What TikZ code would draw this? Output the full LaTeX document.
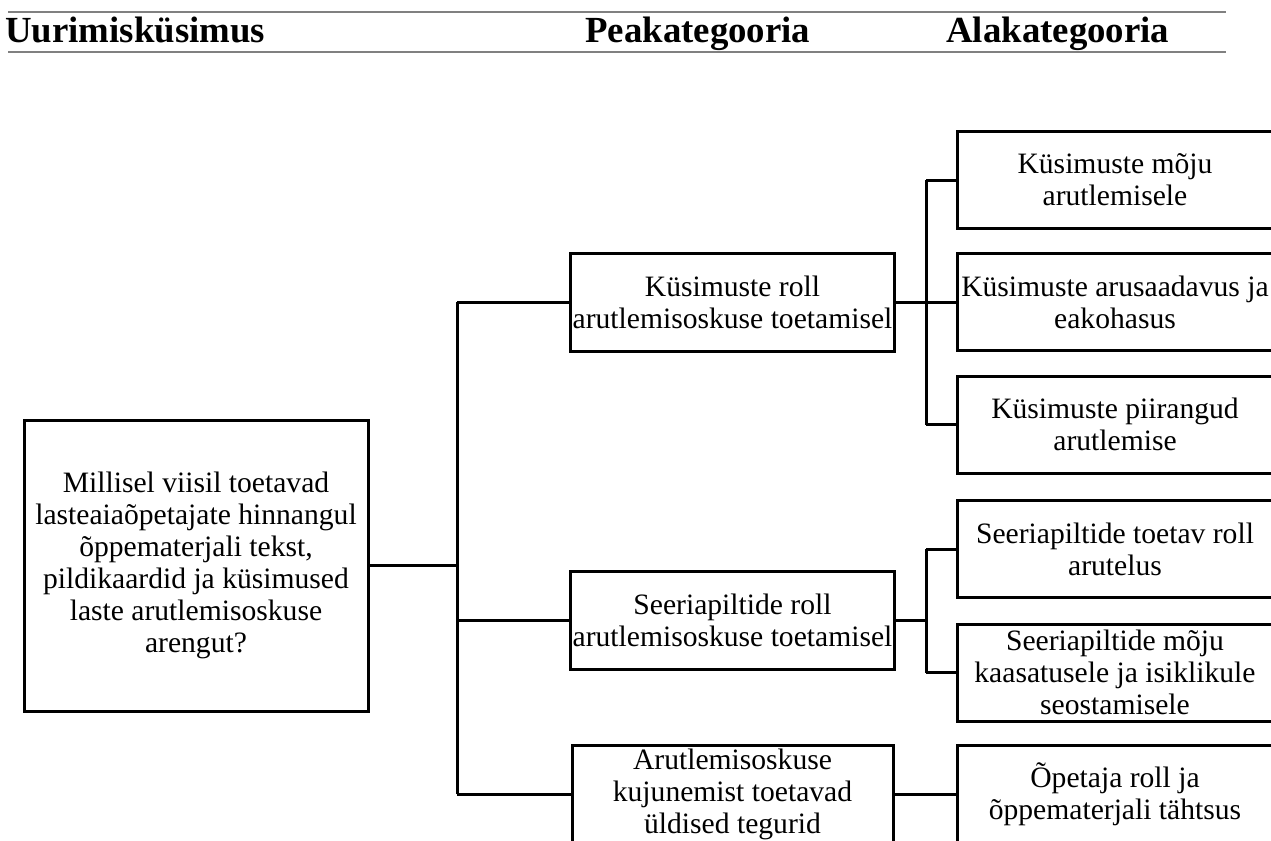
\documentclass[tikz,border=0pt]{standalone}
\usepackage{fontspec}
\setmainfont{Liberation Serif}

\begin{document}
\begin{tikzpicture}[x=0.5pt,y=-0.5pt,
  catbox/.style={draw,line width=1.5pt,align=center,inner sep=1pt,
    font=\fontsize{14.8}{16}\selectfont},
  midbox/.style={catbox,minimum width=160.5pt,minimum height=49pt},
  subbox/.style={catbox,minimum width=158pt,minimum height=48.5pt},
  headtext/.style={anchor=base west,inner sep=0pt,font=\fontsize{18.4}{20}\selectfont\bfseries},
  link/.style={line width=1.5pt}]
\definecolor{rulegray}{HTML}{808080}
\useasboundingbox (0,0) rectangle (1271,841);

% table head
\coordinate (ruleL) at (8,12);
\coordinate (ruleR) at (1226,52);
\draw[rulegray,line width=1.2pt] (ruleL) -- (ruleL -| ruleR);
\draw[rulegray,line width=1.2pt] (ruleL |- ruleR) -- (ruleR);
\node[headtext] (hq) at (5,42) {Uurimisküsimus};
\node[headtext] (hmain) at (585,42) {Peakategooria};
\node[headtext] (hsub) at (946,42) {Alakategooria};

% question
\node[catbox,minimum width=172pt,minimum height=145.5pt] (question) at (196,565.5)
  {Millisel viisil toetavad\\lasteaiaõpetajate hinnangul\\õppematerjali tekst,\\pildikaardid ja küsimused\\laste arutlemisoskuse\\arengut?};

% main categories
\node[midbox] (mid1) at (732.5,302) {Küsimuste roll\\arutlemisoskuse toetamisel};
\node[midbox] (mid2) at (732.5,620) {Seeriapiltide roll\\arutlemisoskuse toetamisel};
\node[midbox] (mid3) at (732.5,794) {Arutlemisoskuse\\kujunemist toetavad\\üldised tegurid};

% sub categories
\node[subbox] (sub1) at (1115,180) {Küsimuste mõju\\arutlemisele};
\node[subbox] (sub2) at (1115,302) {Küsimuste arusaadavus ja\\eakohasus};
\node[subbox] (sub3) at (1115,424.5) {Küsimuste piirangud\\arutlemise};
\node[subbox] (sub4) at (1115,549) {Seeriapiltide toetav roll\\arutelus};
\node[subbox] (sub5) at (1115,672.5) {Seeriapiltide mõju\\kaasatusele ja isiklikule\\seostamisele};
\node[subbox] (sub6) at (1115,794) {Õpetaja roll ja\\õppematerjali tähtsus};

% connectors
\coordinate (split0) at (457,0);
\coordinate (split1) at (926,0);
\draw[link] (question.east) -- (question.east -| split0);
\draw[link] (mid1.west -| split0) -- (mid3.west -| split0);
\foreach \nd in {mid1,mid2,mid3}
  \draw[link] (\nd.west -| split0) -- (\nd.west);
\draw[link] (mid1.east) -- (mid1.east -| split1);
\draw[link] (sub1.west -| split1) -- (sub3.west -| split1);
\foreach \nd in {sub1,sub2,sub3}
  \draw[link] (\nd.west -| split1) -- (\nd.west);
\draw[link] (mid2.east) -- (mid2.east -| split1);
\draw[link] (sub4.west -| split1) -- (sub5.west -| split1);
\foreach \nd in {sub4,sub5}
  \draw[link] (\nd.west -| split1) -- (\nd.west);
\draw[link] (mid3.east) -- (sub6.west);
\end{tikzpicture}
\end{document}
